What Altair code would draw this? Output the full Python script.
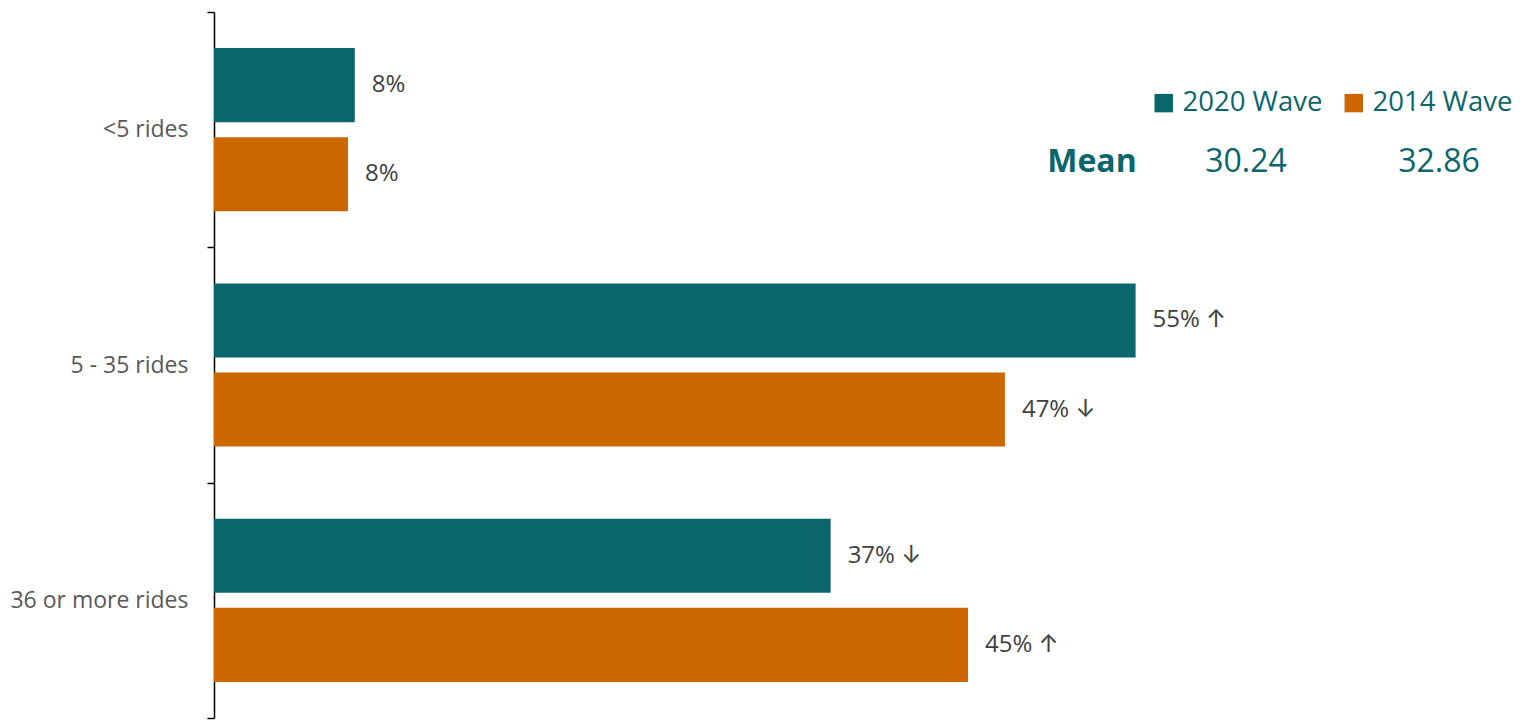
import altair as alt
import pandas as pd

categories = ["<5 rides", "5 - 35 rides", "36 or more rides"]
series = ["2020 Wave", "2014 Wave"]
values_2020 = [8.4, 55.0, 36.8]
values_2014 = [8.0, 47.2, 45.0]
labels_2020 = ["8%", "55% \u2191", "37% \u2193"]
labels_2014 = ["8%", "47% \u2193", "45% \u2191"]
mean_label = "Mean"
means = ["30.24", "32.86"]

colors = ["#0A666C", "#CC6600"]
FONT = "Open Sans"
LABEL_FONT = "Open Sans, Inter, DejaVu Sans"

rows = []
for c, v, l in zip(categories, values_2020, labels_2020):
    rows.append({"category": c, "series": series[0], "value": v, "label": l})
for c, v, l in zip(categories, values_2014, labels_2014):
    rows.append({"category": c, "series": series[1], "value": v, "label": l})
df = pd.DataFrame(rows)

W, H = 1307, 706

y_enc = alt.Y("category:N", sort=categories, title=None,
              scale=alt.Scale(paddingInner=0, paddingOuter=0),
              axis=alt.Axis(domainColor="#000000", domainWidth=1.5, tickColor="#000000",
                            tickWidth=1.5, tickSize=7, tickBand="extent",
                            labelFont=FONT, labelFontSize=23, labelColor="#595959",
                            labelPadding=19, grid=False))
yoff = alt.YOffset("series:N", sort=series,
                   scale=alt.Scale(paddingInner=0.1685, paddingOuter=0.4045))
x_enc = alt.X("value:Q", scale=alt.Scale(domain=[0, 78]), axis=None)

base = alt.Chart(df)
bars = base.mark_bar().encode(
    x=x_enc, y=y_enc, yOffset=yoff,
    color=alt.Color("series:N", sort=series,
                    scale=alt.Scale(domain=series, range=colors),
                    legend=alt.Legend(title=None, orient="none", legendX=936, legendY=77,
                                      direction="horizontal", symbolType="square",
                                      symbolSize=340, symbolStrokeWidth=0,
                                      labelFont=FONT, labelFontSize=27.5,
                                      labelColor="#0A666C", labelOffset=5,
                                      columnPadding=17, padding=0)),
)
text = base.mark_text(align="left", baseline="middle", dx=17, font=LABEL_FONT,
                      fontSize=24, color="#404040").encode(
    x=x_enc, y=alt.Y("category:N", sort=categories), yOffset=yoff, text="label:N")

mean_df = pd.DataFrame({"t": [mean_label]})
mean_txt = alt.Chart(mean_df).mark_text(font=FONT, fontSize=32, fontWeight="bold",
                                        color="#0A666C", align="center", baseline="middle").encode(
    x=alt.value(878), y=alt.value(150), text="t:N")
m1 = alt.Chart(pd.DataFrame({"t": [means[0]]})).mark_text(
    font=FONT, fontSize=32, color="#0A666C", align="center", baseline="middle").encode(
    x=alt.value(1032), y=alt.value(150), text="t:N")
m2 = alt.Chart(pd.DataFrame({"t": [means[1]]})).mark_text(
    font=FONT, fontSize=32, color="#0A666C", align="center", baseline="middle").encode(
    x=alt.value(1225), y=alt.value(150), text="t:N")

chart = alt.layer(bars, text, mean_txt, m1, m2).properties(
    width=W, height=H,
    background="white",
    autosize=alt.AutoSizeParams(type="none"),
    padding={"left": 206, "top": 4, "right": 0, "bottom": 3},
).configure_view(stroke=None)

chart.save("out.html", embed_options={"renderer": "svg", "actions": False})
